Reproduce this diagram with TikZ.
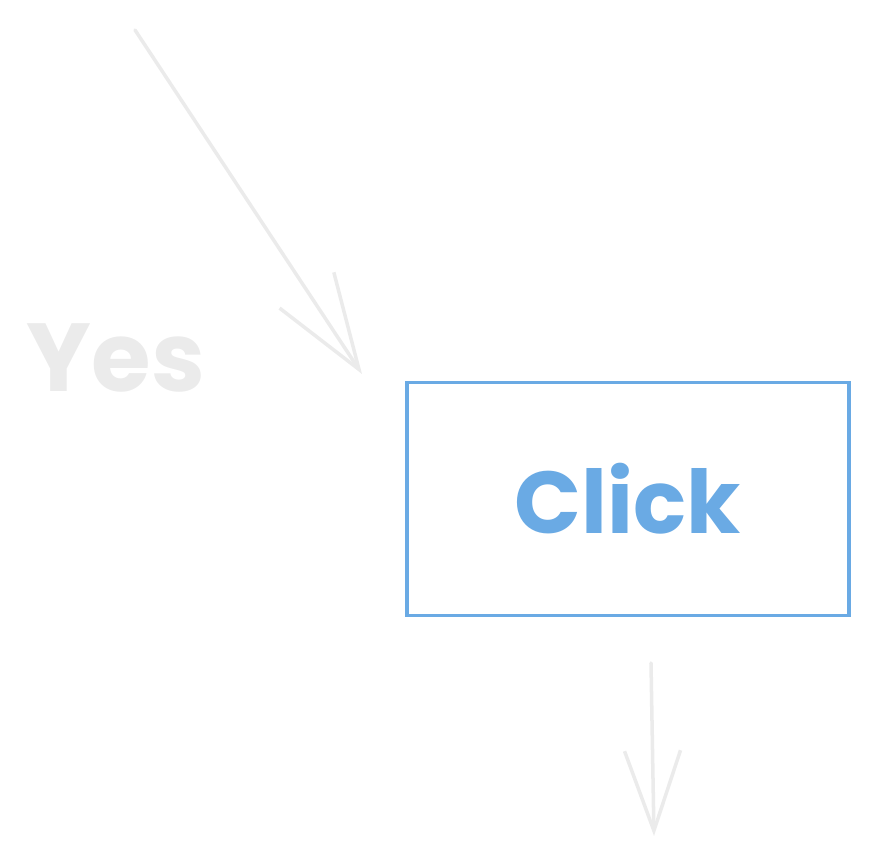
\documentclass[tikz,border=0pt]{standalone}
\usepackage{fontspec}
\setmainfont{Poppins}
\usepackage{xcolor}
\usetikzlibrary{arrows.meta,positioning}

\definecolor{sketchblue}{HTML}{6AAAE4}
\definecolor{sketchgrey}{HTML}{EBEBEB}

\begin{document}
\begin{tikzpicture}[
  x=0.02cm, y=-0.02cm,
  clickbox/.style={draw=sketchblue, line width=2.2pt, minimum width=8.84cm, minimum height=4.66cm, text=sketchblue, font=\fontsize{50}{56}\selectfont\bfseries},
  label/.style={text=sketchgrey, font=\fontsize{55}{62}\selectfont\bfseries},
  arrow/.style={sketchgrey, line width=2pt, line cap=round, -{Straight Barb[length=1.9cm, width=1.3cm, line width=2pt]}},
  downarrow/.style={sketchgrey, line width=2pt, line cap=round, -{Straight Barb[length=1.6cm, width=1.12cm, line width=2pt]}}
]
\useasboundingbox (0,0) rectangle (877,866);

\node[clickbox] (click) at (628,499) {Click};
\node[label] (yes) at (116,358) {Yes};

\coordinate (yesfrom) at (135,30);
\coordinate (yesto) at (362,374);
\coordinate (clickfrom) at (651,663);
\coordinate (clickto) at (654,836);

\draw[arrow] (yesfrom) -- (yesto);
\draw[downarrow] (clickfrom) -- (clickto);

\end{tikzpicture}
\end{document}
